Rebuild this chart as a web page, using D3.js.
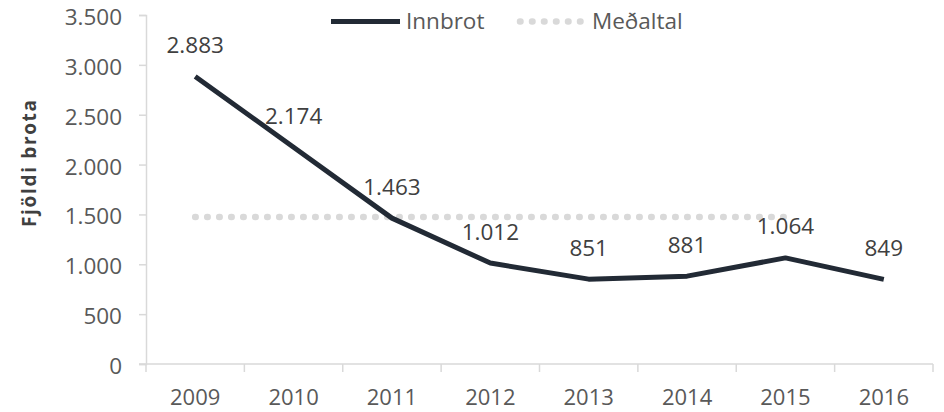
<!DOCTYPE html>
<html><head><meta charset="utf-8">
<script src="https://cdn.jsdelivr.net/npm/d3@7"></script>
<style>body{margin:0;background:#fff}svg{display:block}</style>
</head><body><div id="c"></div>
<script>
const years = ["2009","2010","2011","2012","2013","2014","2015","2016"];
const innbrot = [2883, 2174, 1463, 1012, 851, 881, 1064, 849];
const medaltal = [1475, 1475, 1475, 1475, 1475, 1475, 1475, null];
const yTicks = [0, 500, 1000, 1500, 2000, 2500, 3000, 3500];
const seriesNames = ["Innbrot", "Meðaltal"];

(function () {
const W = 944, H = 412;
const svg = d3.select("#c").append("svg").attr("width", W).attr("height", H);
const mL = 146, mR = 933, mT = 15, mB = 364;
const x = d3.scaleBand().domain(years).range([mL, mR]);
const y = d3.scaleLinear().domain([0, 3500]).range([mB, mT]);
const fmt = v => d3.format(",")(v).replace(/,/g, ".");
const gridC = "#d9d9d9", textC = "#595959", font = "'Open Sans', sans-serif";
const fs = "22.5px";

// y axis
const ya = svg.append("g").attr("transform", `translate(${mL},0)`)
  .call(d3.axisLeft(y).tickValues(yTicks).tickSize(7).tickPadding(17).tickFormat(fmt));
ya.select(".domain").attr("stroke", gridC).attr("stroke-width", 1.5);
ya.selectAll(".tick line").attr("stroke", gridC).attr("stroke-width", 1.5);
ya.selectAll("text").attr("fill", textC).attr("dy", "0.42em")
  .style("font-family", font).style("font-size", fs);

// x axis
const xa = svg.append("g").attr("transform", `translate(0,${mB})`)
  .call(d3.axisBottom(x).tickSize(0));
xa.select(".domain").attr("stroke", gridC).attr("stroke-width", 1.5).attr("d", `M${mL-7},0H${mR}`);
xa.selectAll("text").attr("fill", textC).attr("y", 41).attr("dy", 0)
  .style("font-family", font).style("font-size", "22px");
const bounds = years.map(d => x(d)).concat([mR]);
xa.selectAll(".xt").data(bounds).join("line").attr("class", "xt")
  .attr("x1", d => d).attr("x2", d => d).attr("y1", 0).attr("y2", 8)
  .attr("stroke", gridC).attr("stroke-width", 1.5);

const cx = d => x(d) + x.bandwidth() / 2;
const dotDash = "0.5 11.5";

// average line
const avgData = years.map((d, i) => ({ year: d, v: medaltal[i] }));
svg.append("path").datum(avgData)
  .attr("d", d3.line().defined(d => d.v != null).x(d => cx(d.year)).y(d => y(d.v)))
  .attr("fill", "none").attr("stroke", gridC).attr("stroke-width", 6.5)
  .attr("stroke-linecap", "round").attr("stroke-dasharray", dotDash);

// main line
const data = years.map((d, i) => ({ year: d, v: innbrot[i] }));
svg.append("path").datum(data)
  .attr("d", d3.line().x(d => cx(d.year)).y(d => y(d.v)))
  .attr("fill", "none").attr("stroke", "#222a35").attr("stroke-width", 5)
  .attr("stroke-linejoin", "round");

// data labels
svg.selectAll(".lbl").data(data).join("text").attr("class", "lbl")
  .attr("x", d => cx(d.year)).attr("y", d => y(d.v) - 23.5)
  .attr("text-anchor", "middle").attr("fill", "#404040")
  .style("font-family", font).style("font-size", fs)
  .text(d => fmt(d.v));

// y title
svg.append("text").attr("transform", "translate(36,163.5) rotate(-90)")
  .attr("text-anchor", "middle").attr("fill", "#404040")
  .attr("textLength", 127).attr("lengthAdjust", "spacing")
  .style("font-family", font).style("font-size", "19px").style("font-weight", "bold")
  .text("Fjöldi brota");

// legend
const lg = svg.append("g");
lg.append("line").attr("x1", 331).attr("x2", 400).attr("y1", 21.5).attr("y2", 21.5)
  .attr("stroke", "#222a35").attr("stroke-width", 5);
lg.append("text").attr("x", 406).attr("y", 21.5).attr("dy", "0.34em").attr("fill", textC)
  .style("font-family", font).style("font-size", fs).text(seriesNames[0]);
lg.append("line").attr("x1", 520).attr("x2", 586).attr("y1", 21.5).attr("y2", 21.5)
  .attr("stroke", gridC).attr("stroke-width", 6.5)
  .attr("stroke-linecap", "round").attr("stroke-dasharray", dotDash);
lg.append("text").attr("x", 592).attr("y", 21.5).attr("dy", "0.34em").attr("fill", textC)
  .style("font-family", font).style("font-size", fs).text(seriesNames[1]);
})();
</script></body></html>
